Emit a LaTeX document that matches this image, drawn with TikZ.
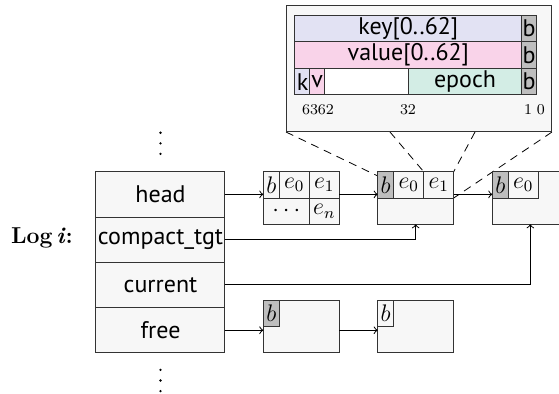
\documentclass[tikz,border=0pt]{standalone}
\usepackage{fontspec}
\setsansfont{PT Sans}
\usetikzlibrary{backgrounds}

\definecolor{keyfill}{HTML}{E2E2F3}
\definecolor{valuefill}{HTML}{F9D3E9}
\definecolor{epochfill}{HTML}{D3EDE5}
\definecolor{bitfill}{HTML}{BEBEBE}
\definecolor{boxfill}{HTML}{F7F7F7}

\begin{document}
\begin{tikzpicture}[
    x=0.5pt, y=-0.5pt,
    font=\sffamily\fontsize{12}{14}\selectfont,
    line width=0.5pt,
    field/.style={
        draw=black!80,
        fill=boxfill,
        minimum width=64.5pt,
        minimum height=22.65pt,
        inner sep=0pt,
        outer sep=0pt
    },
    block/.style={
        draw=black!80,
        fill=boxfill,
        minimum width=38pt,
        minimum height=26.3pt,
        inner sep=0pt,
        outer sep=0pt,
        anchor=north west
    },
    cell/.style={
        draw=black!80,
        fill=boxfill,
        minimum height=13.15pt,
        inner sep=0pt,
        outer sep=0pt,
        anchor=north west,
        font=\fontsize{11.5}{13}\selectfont
    },
    bitcell/.style={cell, minimum width=8pt},
    entry/.style={cell, minimum width=15pt},
    rowcell/.style={
        draw=black!80,
        minimum height=13.33pt,
        inner sep=0pt,
        outer sep=0pt,
        anchor=north west
    },
    bitno/.style={font=\rmfamily\fontsize{7.5}{9}\selectfont},
    pointer/.style={->, draw=black}
]
    \useasboundingbox (0,0) rectangle (559,393);

    % the log descriptor
    \node[font=\rmfamily\bfseries\fontsize{11.5}{14}\selectfont] (loglbl) at (42,238) {Log\,\textit{i}:};
    \node[field] (head) at (160.5,194.35) {head};
    \node[field, anchor=north] (compact) at (head.south) {compact\_tgt};
    \node[field, anchor=north] (current) at (compact.south) {current};
    \node[field, anchor=north] (free) at (current.south) {free};

    % more logs above and below
    \coordinate (dotsup) at (160.5,143.3);
    \coordinate (dotsdown) at (160.5,380.5);
    \fill ([yshift=5.3pt]dotsup) circle (0.65pt) (dotsup) circle (0.65pt)
        ([yshift=-5.3pt]dotsup) circle (0.65pt);
    \fill ([yshift=5.3pt]dotsdown) circle (0.65pt) (dotsdown) circle (0.65pt)
        ([yshift=-5.3pt]dotsdown) circle (0.65pt);

    % chain of blocks from head
    \node[block] (blk1) at (263.3,171.7) {};
    \node[bitcell] (blk1b) at (blk1.north west) {$b$};
    \node[entry] (blk1e0) at (blk1b.north east) {$e_0$};
    \node[entry] (blk1e1) at (blk1e0.north east) {$e_1$};
    \node[cell, minimum width=23pt] (blk1dots) at (blk1b.south west) {$\cdots$};
    \node[entry] (blk1en) at (blk1dots.north east) {$e_n$};

    \node[block] (blk2) at (377.7,171.7) {};
    \node[bitcell, fill=bitfill] (blk2b) at (blk2.north west) {$b$};
    \node[entry] (blk2e0) at (blk2b.north east) {$e_0$};
    \node[entry] (blk2e1) at (blk2e0.north east) {$e_1$};

    \node[block] (blk3) at (492.3,171.7) {};
    \node[bitcell, fill=bitfill] (blk3b) at (blk3.north west) {$b$};
    \node[entry] (blk3e0) at (blk3b.north east) {$e_0$};

    % free list
    \node[block] (blk4) at (263.3,300) {};
    \node[bitcell, fill=bitfill] (blk4b) at (blk4.north west) {$b$};
    \node[block] (blk5) at (377.7,300) {};
    \node[bitcell] (blk5b) at (blk5.north west) {$b$};

    % layout of one entry
    \node[draw=black!80, fill=boxfill, minimum width=132.5pt, minimum height=63pt,
        inner sep=0pt, anchor=north west] (zoombox) at (286,5) {};
    \node[rowcell, fill=keyfill, minimum width=113.35pt] (key) at (295,15) {key[0..62]};
    \node[rowcell, fill=bitfill, minimum width=7.5pt] (keyb) at (key.north east) {b};
    \node[rowcell, fill=valuefill, minimum width=113.35pt] (value) at (key.south west) {value[0..62]};
    \node[rowcell, fill=bitfill, minimum width=7.5pt] (valueb) at (value.north east) {b};
    \node[rowcell, fill=keyfill, minimum width=7.5pt] (kbit) at (value.south west) {k};
    \node[rowcell, fill=valuefill, minimum width=7.15pt] (vbit) at (kbit.north east) {v};
    \node[rowcell, fill=white, minimum width=42pt] (unused) at (vbit.north east) {};
    \node[rowcell, fill=epochfill, minimum width=56.7pt] (epoch) at (unused.north east) {epoch};
    \node[rowcell, fill=bitfill, minimum width=7.5pt] (epochb) at (epoch.north east) {b};
    \node[bitno] (bit63) at (318,110) {6362};
    \node[bitno] (bit32) at (408,110) {32};
    \node[bitno] (bit10) at (534.5,110) {1\,\,0};

    \begin{scope}[on background layer]
        \draw[dash pattern=on 4pt off 3pt]
            (zoombox.south west) -- (blk2e1.south west)
            ([xshift=52pt]zoombox.south west) -- (blk2e1.north west)
            ([xshift=94.5pt]zoombox.south west) -- (blk2e1.north east)
            (zoombox.south east) -- (blk2e1.south east);
    \end{scope}

    % pointers
    \draw[pointer] (head.east) -- (head.east -| blk1.west);
    \draw[pointer] (head.east -| blk1.east) -- (head.east -| blk2.west);
    \draw[pointer] (head.east -| blk2.east) -- (head.east -| blk3.west);
    \draw[pointer] (compact.east) -| (blk2.south);
    \draw[pointer] (current.east) -| (blk3.south);
    \draw[pointer] (free.east) -- (free.east -| blk4.west);
    \draw[pointer] (free.east -| blk4.east) -- (free.east -| blk5.west);
\end{tikzpicture}
\end{document}
